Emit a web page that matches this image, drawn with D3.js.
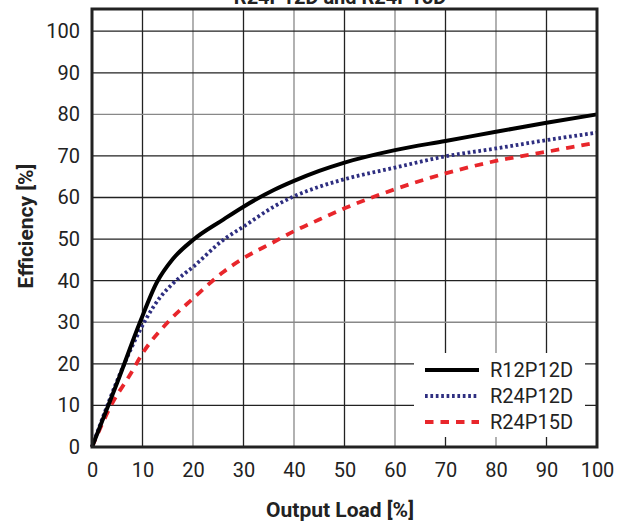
<!DOCTYPE html>
<html><head><meta charset="utf-8">
<script src="https://cdn.jsdelivr.net/npm/d3@7"></script>
<style>
body{margin:0;background:#fff;}
svg{display:block;}
text{font-family:"Roboto","Liberation Sans",sans-serif;fill:#222;}
</style></head>
<body>
<svg id="c" width="626" height="522"></svg>
<script>
const title = "R24P12D and R24P15D";
const xTicks = [0,10,20,30,40,50,60,70,80,90,100];
const yTicks = [0,10,20,30,40,50,60,70,80,90,100];
const seriesNames = ["R12P12D","R24P12D","R24P15D"];
const r12p12dLoad = [0,5,9.5,12.8,16,20,26,30,36,40,45,50,60,70,80,90,100];
const r12p12dEff  = [0,15.5,30,39.5,45.2,49.8,54.7,57.8,61.8,64,66.4,68.4,71.4,73.6,75.8,78,80];
const r24p12dLoad = [0,5,10.8,13.5,16,20,26,30,36,40,45,50,60,70,80,90,100];
const r24p12dEff  = [0,16,31,36,39.3,43.3,49.8,53,57.8,60.3,62.6,64.4,67.2,69.9,71.8,73.8,75.6];
const r24p15dLoad = [0,4,7.5,10,15.4,20,26,30,36,40,45,50,60,70,80,90,100];
const r24p15dEff  = [0,10.5,17.3,22.5,30.5,35.7,42.1,45.4,49.3,51.9,54.7,57.4,62,65.8,68.8,71,73.2];

const svg = d3.select("#c");
const L=92,R=597,B=447,T=9;
const x = d3.scaleLinear().domain([0,100]).range([L,R]);
const y = d3.scaleLinear().domain([0,100]).range([B,31.2]);

svg.append("text").attr("x",340).attr("y",4).attr("text-anchor","middle")
  .attr("font-weight","bold").attr("font-size",20).text(title);

// grid
const g = svg.append("g");
g.selectAll(".vg").data(xTicks.slice(1,-1)).join("line")
  .attr("x1",d=>x(d)).attr("x2",d=>x(d)).attr("y1",T).attr("y2",B)
  .attr("stroke",(d,i)=> i%2===0 ? "#222" : "#888").attr("stroke-width",1.3);
g.selectAll(".hg").data(yTicks.slice(1)).join("line")
  .attr("x1",L).attr("x2",R).attr("y1",d=>y(d)).attr("y2",d=>y(d))
  .attr("stroke",d=> (d===30||d===80) ? "#888" : "#222").attr("stroke-width",1.3);

// axes labels
const xa = d3.axisBottom(x).tickValues(xTicks).tickSize(0).tickPadding(16);
const xg = svg.append("g").attr("transform",`translate(0,${B})`).call(xa);
xg.select(".domain").remove();
xg.selectAll("text").attr("font-size",20).attr("fill","#222").attr("font-family","Roboto, sans-serif");
const ya = d3.axisLeft(y).tickValues(yTicks).tickSize(0).tickPadding(12);
const yg = svg.append("g").attr("transform",`translate(${L},0)`).call(ya);
yg.select(".domain").remove();
yg.selectAll("text").attr("font-size",20).attr("fill","#222").attr("font-family","Roboto, sans-serif");

// legend background
svg.append("rect").attr("x",414).attr("y",353).attr("width",171).attr("height",84).attr("fill","#fff");

// lines
const line = d3.line().x(d=>x(d[0])).y(d=>y(d[1])).curve(d3.curveMonotoneX);
const data = [
  {name:seriesNames[0], pts:d3.zip(r12p12dLoad,r12p12dEff), color:"#000", w:4, dash:null},
  {name:seriesNames[1], pts:d3.zip(r24p12dLoad,r24p12dEff), color:"#2e2e80", w:3.8, dash:"2.7,2.7"},
  {name:seriesNames[2], pts:d3.zip(r24p15dLoad,r24p15dEff), color:"#e8262b", w:3.8, dash:"8.5,7"}
];
svg.append("g").selectAll("path").data(data.slice().reverse()).join("path")
  .attr("d",d=>line(d.pts)).attr("fill","none").attr("stroke",d=>d.color)
  .attr("stroke-width",d=>d.w).attr("stroke-dasharray",d=>d.dash);

// legend
const lg = svg.append("g").selectAll("g").data(data).join("g")
  .attr("transform",(d,i)=>`translate(0,${370+i*26})`);
lg.append("line").attr("x1",425).attr("x2",479).attr("y1",0).attr("y2",0)
  .attr("stroke",d=>d.color).attr("stroke-width",d=>d.w).attr("stroke-dasharray",d=>d.dash);
lg.append("text").attr("x",490).attr("y",7).attr("font-size",20).text(d=>d.name);

// frame
svg.append("rect").attr("x",L).attr("y",T).attr("width",R-L).attr("height",B-T)
  .attr("fill","none").attr("stroke","#222").attr("stroke-width",3);

// axis titles
svg.append("text").attr("transform","translate(33,226) rotate(-90)").attr("text-anchor","middle")
  .attr("font-weight","bold").attr("font-size",21).text("Efficiency [%]");
svg.append("text").attr("x",340).attr("y",517).attr("text-anchor","middle")
  .attr("font-weight","bold").attr("font-size",21).text("Output Load [%]");
</script>
</body></html>
